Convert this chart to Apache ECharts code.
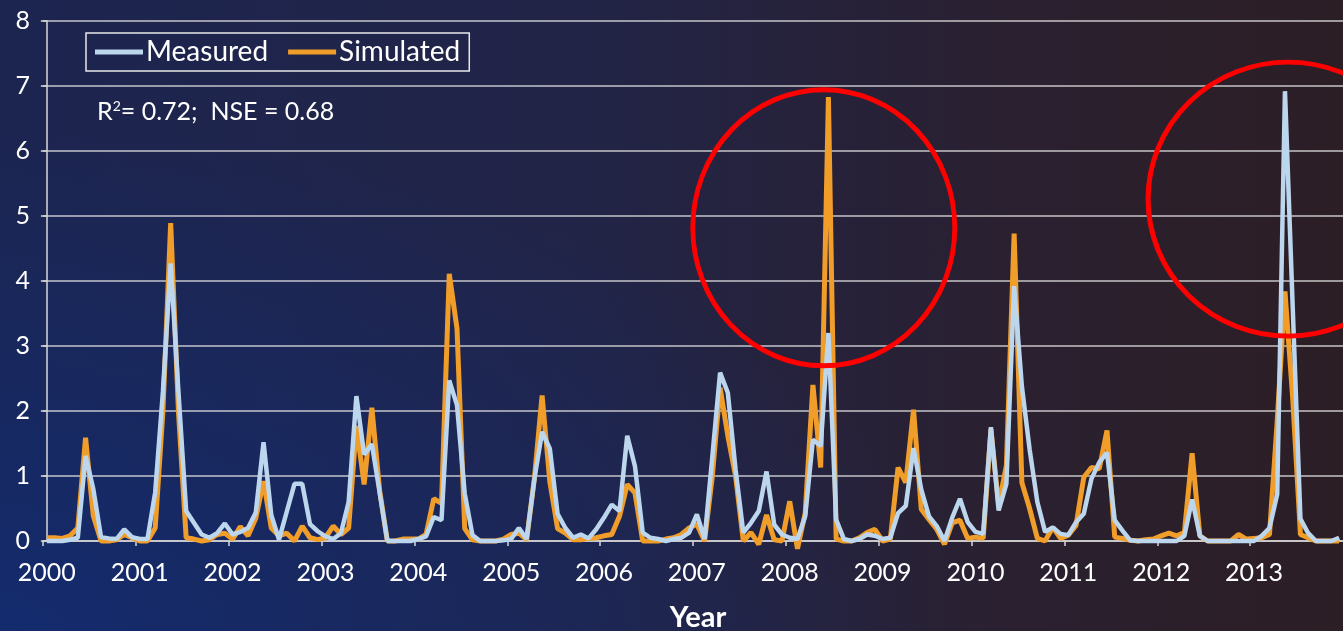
<!DOCTYPE html>
<html>
<head>
<meta charset="utf-8">
<title>Measured vs Simulated</title>
<script src="https://cdn.jsdelivr.net/npm/echarts@6/dist/echarts.min.js"></script>
<style>
  html, body { margin: 0; padding: 0; }
  body {
    width: 1343px; height: 631px; overflow: hidden;
    background:
      radial-gradient(ellipse 70% 80% at 0% 100%, rgba(18, 44, 115, 0.85) 0%, rgba(18, 44, 115, 0) 100%),
      linear-gradient(90deg, #1c2550 0%, #222446 45%, #2a2030 75%, #2c1e25 100%);
  }
  #chart { width: 1343px; height: 631px; }
</style>
</head>
<body>
<div id="chart"></div>
<script>
// Year labels on the time axis (one per January)
const years = ['2000', '2001', '2002', '2003', '2004', '2005', '2006',
               '2007', '2008', '2009', '2010', '2011', '2012', '2013'];

// Monthly values, Jan 2000 .. Dec 2013
const measured = [
  0, 0, 0, 0.02, 0.05, 1.31, 0.8, 0.06, 0.04, 0.03, 0.18, 0.06,
  0.03, 0.03, 0.75, 2.3, 4.27, 2.3, 0.46, 0.28, 0.1, 0.05, 0.12, 0.27,
  0.1, 0.14, 0.2, 0.44, 1.52, 0.4, 0.02, 0.45, 0.88, 0.88, 0.26, 0.15,
  0.07, 0.03, 0.12, 0.6, 2.23, 1.33, 1.49, 0.75, 0, 0, 0, 0,
  0.03, 0.07, 0.37, 0.32, 2.47, 2.09, 0.73, 0.09, 0, 0, 0, 0.01,
  0.03, 0.2, 0.03, 0.95, 1.68, 1.42, 0.42, 0.2, 0.05, 0.1, 0.04, 0.18,
  0.36, 0.56, 0.46, 1.62, 1.15, 0.13, 0.05, 0.03, 0, 0.03, 0.05, 0.13,
  0.41, 0.03, 1.3, 2.59, 2.28, 1.1, 0.13, 0.28, 0.46, 1.07, 0.25, 0.1,
  0.05, 0.03, 0.38, 1.56, 1.46, 3.2, 0.33, 0.03, 0, 0.03, 0.1, 0.08,
  0.03, 0.05, 0.43, 0.54, 1.43, 0.79, 0.38, 0.23, 0, 0.36, 0.65, 0.29,
  0.14, 0.11, 1.75, 0.47, 0.88, 3.92, 2.38, 1.41, 0.6, 0.14, 0.21, 0.11,
  0.09, 0.29, 0.42, 0.96, 1.21, 1.36, 0.32, 0.16, 0.01, 0, 0, 0,
  0, 0, 0, 0.08, 0.64, 0.08, 0, 0, 0, 0, 0, 0,
  0, 0.08, 0.2, 0.72, 6.92, 3.6, 0.34, 0.12, 0, 0, 0, 0.05
];

const simulated = [
  0.05, 0.05, 0.04, 0.08, 0.2, 1.59, 0.39, 0, 0, 0.02, 0.1, 0.05,
  0, 0, 0.2, 2.0, 4.89, 2.0, 0.05, 0.03, 0, 0.02, 0.1, 0.12,
  0.03, 0.22, 0.08, 0.35, 0.92, 0.2, 0.08, 0.12, 0, 0.23, 0.05, 0.02,
  0.05, 0.23, 0.1, 0.2, 1.77, 0.87, 2.05, 0.78, 0, 0, 0.03, 0.03,
  0.03, 0.1, 0.65, 0.58, 4.11, 3.27, 0.19, 0.02, 0, 0, 0, 0.03,
  0.1, 0.12, 0.02, 0.96, 2.24, 0.91, 0.19, 0.12, 0.02, 0.02, 0.04, 0.05,
  0.08, 0.1, 0.38, 0.87, 0.74, 0, 0, 0, 0.03, 0.05, 0.1, 0.2,
  0.26, 0, 1.0, 2.36, 1.62, 1.0, 0, 0.13, -0.05, 0.4, 0.02, 0,
  0.61, -0.12, 0.43, 2.4, 1.13, 6.83, 0.03, 0, 0, 0.05, 0.13, 0.18,
  0, 0.03, 1.13, 0.9, 2.02, 0.49, 0.33, 0.18, -0.05, 0.28, 0.32, 0.04,
  0.06, 0.04, 1.72, 0.55, 1.16, 4.73, 0.9, 0.5, 0.04, 0, 0.21, 0.04,
  0.09, 0.24, 0.98, 1.13, 1.11, 1.7, 0.06, 0.04, 0.01, 0, 0.02, 0.03,
  0.08, 0.12, 0.08, 0.13, 1.35, 0.08, 0, 0, 0, 0, 0.1, 0.03,
  0.04, 0.05, 0.1, 1.85, 3.84, 2.2, 0.1, 0.05, 0, 0, 0, 0
];

// Centres (month index, value) of the two highlighted peak events
const highlightCentres = [[100.4, 4.82], [160.4, 5.26]];

const FONT = 'Lato, "Open Sans", sans-serif';
const yearStarts = years.map((y, k) => k * 12);
const yearTicks = years.map((y, k) => k * 12 - 0.5);
const toPairs = arr => arr.map((v, i) => [i, v]);
const circleSizes = [[262, 276], [280, 274]];

const chart = echarts.init(document.getElementById('chart'), null, { renderer: 'canvas' });

chart.setOption({
  backgroundColor: 'transparent',
  animation: false,
  textStyle: { fontFamily: FONT },
  grid: { left: 43, right: 0, top: 21, bottom: 90, containLabel: false, outerBoundsMode: 'none' },
  legend: {
    data: ['Measured', 'Simulated'],
    left: 86, top: 33,
    padding: [5, 9, 5, 9],
    itemGap: 20,
    itemWidth: 48,
    itemHeight: 5,
    icon: 'rect',
    borderColor: '#e8e8e8',
    borderWidth: 1.5,
    borderRadius: 0,
    textStyle: { color: '#ffffff', fontSize: 28, fontFamily: FONT, padding: [0, 0, 0, -2] }
  },
  xAxis: {
    type: 'value',
    min: -0.5,
    max: 167.5,
    name: 'Year',
    nameLocation: 'middle',
    nameGap: 62,
    nameTextStyle: { color: '#ffffff', fontSize: 29, fontWeight: 'bold', fontFamily: FONT, padding: [0, 0, 0, 10] },
    splitLine: { show: false },
    axisLine: { show: true, lineStyle: { color: '#d8d8d8', width: 1.5 } },
    axisTick: {
      show: true, length: 5, inside: false,
      customValues: yearTicks,
      lineStyle: { color: '#d8d8d8', width: 1.5 }
    },
    axisLabel: {
      customValues: yearStarts,
      margin: 19,
      color: '#ffffff', fontSize: 25, fontFamily: FONT,
      formatter: v => years[Math.round(v / 12)]
    }
  },
  yAxis: {
    type: 'value',
    min: 0, max: 8, interval: 1,
    axisLine: { show: true, lineStyle: { color: '#d8d8d8', width: 1.5 } },
    axisTick: { show: true, length: 6, inside: false, lineStyle: { color: '#d8d8d8', width: 1.5 } },
    axisLabel: { margin: 13, color: '#ffffff', fontSize: 25, fontFamily: FONT },
    splitLine: { show: true, lineStyle: { color: 'rgba(225,225,225,0.85)', width: 1.5 } }
  },
  graphic: [{
    type: 'text',
    left: 97, top: 99,
    style: {
      text: '{a|R}{s|2}{a|= 0.72;  NSE = 0.68}',
      fill: '#ffffff',
      rich: {
        a: { fontSize: 25, fontFamily: FONT, fill: '#ffffff', verticalAlign: 'bottom' },
        s: { fontSize: 14, fontFamily: FONT, fill: '#ffffff', verticalAlign: 'top', padding: [0, 0, 11, 0] }
      }
    }
  }],
  series: [
    {
      name: 'Simulated',
      type: 'line',
      data: toPairs(simulated),
      symbol: 'none',
      clip: false,
      z: 2,
      lineStyle: { color: '#f09d2a', width: 5, join: 'bevel' },
      itemStyle: { color: '#f09d2a' }
    },
    {
      name: 'Measured',
      type: 'line',
      data: toPairs(measured),
      symbol: 'none',
      clip: false,
      z: 3,
      lineStyle: { color: '#bcd6ee', width: 4.5, join: 'bevel' },
      itemStyle: { color: '#bcd6ee' }
    },
    {
      name: 'highlight',
      type: 'scatter',
      data: highlightCentres,
      symbol: 'circle',
      symbolSize: (val, p) => circleSizes[p.dataIndex],
      clip: false,
      silent: true,
      z: 5,
      itemStyle: { color: 'rgba(0,0,0,0)', borderColor: '#ff0000', borderWidth: 5, opacity: 1 }
    }
  ]
});
</script>
</body>
</html>
